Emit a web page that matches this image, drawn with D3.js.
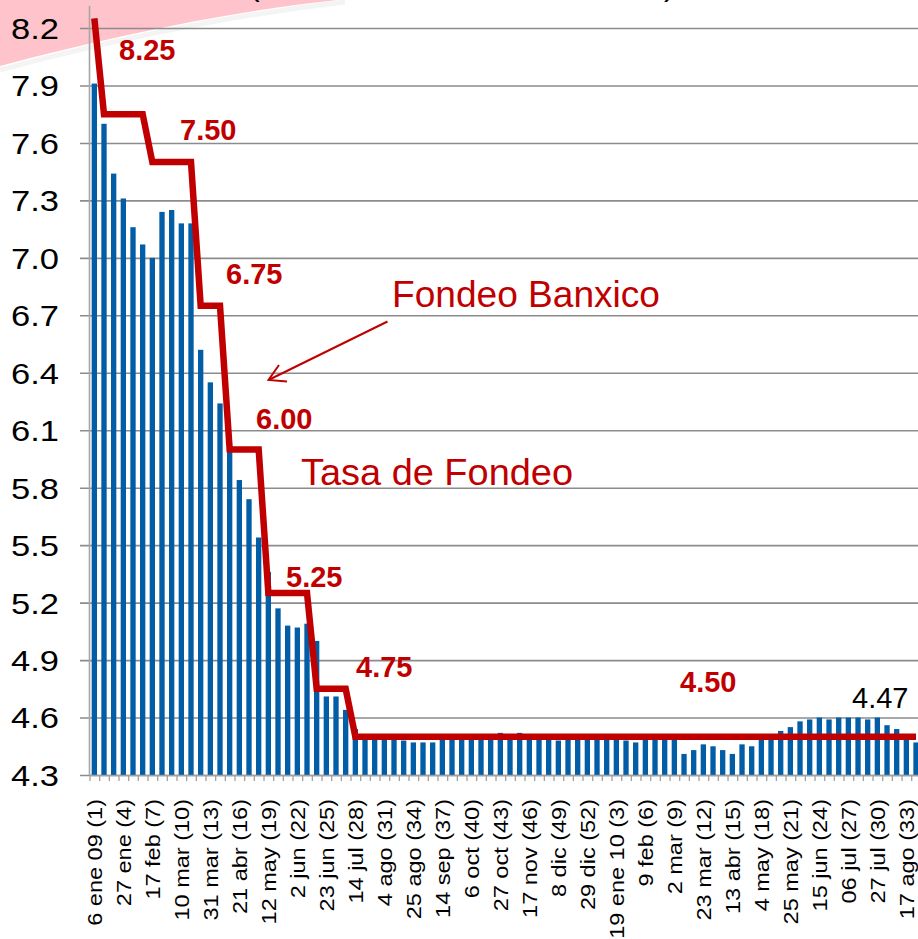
<!DOCTYPE html>
<html><head><meta charset="utf-8">
<script src="https://cdn.jsdelivr.net/npm/d3@7"></script>
<style>body{margin:0;background:#fff;overflow:hidden} svg{display:block}</style>
</head><body>
<svg id="c" width="918" height="939"></svg>
<script>
// ---- DATA ----
const categories = [
 "6 ene 09 (1)","13 ene (2)","20 ene (3)","27 ene (4)","3 feb (5)","10 feb (6)","17 feb (7)","24 feb (8)","3 mar (9)","10 mar (10)",
 "17 mar (11)","24 mar (12)","31 mar (13)","7 abr (14)","14 abr (15)","21 abr (16)","28 abr (17)","5 may (18)","12 may (19)","19 may (20)",
 "26 may (21)","2 jun (22)","9 jun (23)","16 jun (24)","23 jun (25)","30 jun (26)","7 jul (27)","14 jul (28)","21 jul (29)","28 jul (30)",
 "4 ago (31)","11 ago (32)","18 ago (33)","25 ago (34)","1 sep (35)","8 sep (36)","14 sep (37)","22 sep (38)","29 sep (39)","6 oct (40)",
 "13 oct (41)","20 oct (42)","27 oct (43)","3 nov (44)","10 nov (45)","17 nov (46)","24 nov (47)","1 dic (48)","8 dic (49)","15 dic (50)",
 "22 dic (51)","29 dic (52)","5 ene 10 (1)","12 ene (2)","19 ene 10 (3)","26 ene (4)","2 feb (5)","9 feb (6)","16 feb (7)","23 feb (8)",
 "2 mar (9)","9 mar (10)","16 mar (11)","23 mar (12)","30 mar (13)","6 abr (14)","13 abr (15)","20 abr (16)","27 abr (17)","4 may (18)",
 "11 may (19)","18 may (20)","25 may (21)","1 jun (22)","8 jun (23)","15 jun (24)","22 jun (25)","29 jun (26)","06 jul (27)","13 jul (28)",
 "20 jul (29)","27 jul (30)","3 ago (31)","10 ago (32)","17 ago (33)","24 ago (34)"
];
// Tasa de Fondeo (bars)
const tasaFondeo = [
 7.91,7.70,7.44,7.31,7.16,7.07,7.00,7.24,7.25,7.18,
 7.18,6.52,6.35,6.24,5.99,5.84,5.74,5.54,5.36,5.17,
 5.08,5.07,5.09,5.00,4.71,4.71,4.64,4.54,4.51,4.50,
 4.50,4.50,4.48,4.47,4.47,4.47,4.50,4.50,4.50,4.50,
 4.50,4.50,4.52,4.50,4.52,4.50,4.50,4.50,4.48,4.50,
 4.50,4.50,4.50,4.50,4.50,4.48,4.47,4.50,4.50,4.50,
 4.50,4.41,4.43,4.46,4.45,4.43,4.41,4.46,4.45,4.50,
 4.50,4.53,4.55,4.58,4.59,4.60,4.59,4.60,4.60,4.60,
 4.59,4.60,4.56,4.54,4.50,4.47
];
// Fondeo Banxico (target rate line)
const fondeoBanxico = [
 8.25,7.75,7.75,7.75,7.75,7.75,7.50,7.50,7.50,7.50,
 7.50,6.75,6.75,6.75,6.00,6.00,6.00,6.00,5.25,5.25,
 5.25,5.25,5.25,4.75,4.75,4.75,4.75,4.50,4.50,4.50,
 4.50,4.50,4.50,4.50,4.50,4.50,4.50,4.50,4.50,4.50,
 4.50,4.50,4.50,4.50,4.50,4.50,4.50,4.50,4.50,4.50,
 4.50,4.50,4.50,4.50,4.50,4.50,4.50,4.50,4.50,4.50,
 4.50,4.50,4.50,4.50,4.50,4.50,4.50,4.50,4.50,4.50,
 4.50,4.50,4.50,4.50,4.50,4.50,4.50,4.50,4.50,4.50,
 4.50,4.50,4.50,4.50,4.50,4.50
];
const yTicks = [4.3,4.6,4.9,5.2,5.5,5.8,6.1,6.4,6.7,7.0,7.3,7.6,7.9,8.2];
const rateLabels = ["8.25","7.50","6.75","6.00","5.25","4.75","4.50"];
const lastValueLabel = "4.47";
const seriesNames = ["Fondeo Banxico","Tasa de Fondeo"];

// ---- LAYOUT ----
const W = 918, H = 939;
const FONT = "'Liberation Sans', Arial, Helvetica, sans-serif";
const RED = "#C00000", BLUE = "#005DA6";
const svg = d3.select("#c");
const n = categories.length;
const xStart = 89.5, stepPx = 9.667;
const x = d3.scaleBand().domain(categories).range([xStart, xStart + n*stepPx]).paddingInner(0.45).paddingOuter(0.225);
const xb = d3.scaleLinear().domain([0, n]).range(x.range());
const y = d3.scaleLinear().domain([4.3, 8.315]).range([775, 6]);
const cx = i => x(categories[i]) + x.bandwidth()/2;

// pink decorative swoosh
svg.append("path").attr("d","M0,0 L338,0 C240,10 120,34 0,66 Z").attr("fill","#FFC3CB");
svg.append("path").attr("d","M0,70 C120,38 240,14 345,2").attr("fill","none").attr("stroke","#f4f4f4").attr("stroke-width",5);

// title fragments (cut off at top, as in the reference)
svg.append("text").attr("x",249).attr("y",-5).attr("font-family",FONT).attr("font-size",32).text("(");
svg.append("text").attr("x",664).attr("y",-5).attr("font-family",FONT).attr("font-size",32).text(")");

// gridlines
const grid = svg.append("g").attr("transform","translate(80,0)")
  .call(d3.axisLeft(y).tickValues(yTicks).tickSize(-(W-80)).tickFormat(""));
grid.select(".domain").remove();
grid.selectAll("line").attr("stroke","#8C8C8C").attr("stroke-width",1.6);

// y labels
const yl = svg.append("g").attr("transform","translate(59,0)")
  .call(d3.axisLeft(y).tickValues(yTicks).tickSize(0).tickPadding(0).tickFormat(d3.format(".1f")));
yl.select(".domain").remove();
yl.selectAll("text").attr("font-family",FONT).attr("font-size",29).attr("fill","#000")
  .attr("x",0).attr("dy","0.36em").attr("transform","scale(1.19,1)");

// bars
svg.append("g").selectAll("rect").data(tasaFondeo).join("rect")
  .attr("x",(d,i)=>x(categories[i])).attr("width",x.bandwidth())
  .attr("y",d=>y(d)).attr("height",d=>y(4.3)-y(d)).attr("fill",BLUE);

// y axis line
svg.append("line").attr("x1",xStart).attr("x2",xStart).attr("y1",y.range()[1]).attr("y2",y.range()[0])
  .attr("stroke","#A6A6A6").attr("stroke-width",1.6);

// x axis with boundary ticks
const xa = svg.append("g").attr("transform",`translate(0,${y(4.3)})`)
  .call(d3.axisBottom(xb).tickValues(d3.range(n+1)).tickSize(6).tickSizeOuter(0).tickFormat(""));
xa.select(".domain").attr("stroke","#A0A0A0").attr("stroke-width",1.6);
xa.selectAll("line").attr("stroke","#A0A0A0").attr("stroke-width",1.3);

// x labels
const xl = svg.append("g").attr("transform","translate(0,799)")
  .call(d3.axisBottom(x).tickValues(categories.filter((d,i)=>i%3===0)).tickSize(0).tickPadding(0));
xl.select(".domain").remove();
xl.selectAll("text").attr("font-family",FONT).attr("font-size",21).attr("fill","#000")
  .attr("x",0).attr("y",0).attr("dy","0.35em").attr("text-anchor","end")
  .attr("transform","rotate(-90) scale(1.12,1)");

// Fondeo Banxico line
svg.append("path").datum(fondeoBanxico)
  .attr("d", d3.line().x((d,i)=>cx(i)).y(d=>y(d)))
  .attr("fill","none").attr("stroke",RED).attr("stroke-width",6.5).attr("stroke-linejoin","miter");

// rate labels
const labelPos = [[119,60],[180,140],[226,284],[256,429],[286,587],[356,677],[680,692]];
svg.append("g").selectAll("text").data(rateLabels).join("text")
  .attr("x",(d,i)=>labelPos[i][0]).attr("y",(d,i)=>labelPos[i][1])
  .attr("font-family",FONT).attr("font-size",29).attr("font-weight","bold").attr("fill",RED).text(d=>d);

svg.append("text").attr("x",852).attr("y",708).attr("font-family",FONT).attr("font-size",29).attr("fill","#000").text(lastValueLabel);

// series labels
svg.append("text").attr("x",392).attr("y",307).attr("font-family",FONT).attr("font-size",36)
  .attr("textLength",268).attr("lengthAdjust","spacingAndGlyphs").attr("fill",RED).text(seriesNames[0]);
svg.append("text").attr("x",301).attr("y",485).attr("font-family",FONT).attr("font-size",37)
  .attr("textLength",272).attr("lengthAdjust","spacingAndGlyphs").attr("fill",RED).text(seriesNames[1]);

// arrow
svg.append("line").attr("x1",387.5).attr("y1",321.5).attr("x2",269.5).attr("y2",379.5).attr("stroke",RED).attr("stroke-width",2);
svg.append("path").attr("d","M279,365 L268.5,380 L287,381.5").attr("fill","none").attr("stroke",RED).attr("stroke-width",2);
</script>
</body></html>
